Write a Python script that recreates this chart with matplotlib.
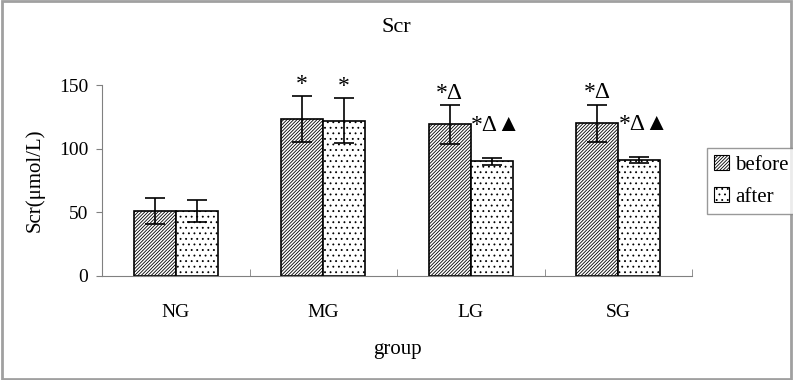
import matplotlib
matplotlib.use("Agg")
import matplotlib.pyplot as plt
from matplotlib.patches import Rectangle, Patch
import numpy as np

groups = ["NG", "MG", "LG", "SG"]
before = [51, 123, 119, 120]
before_err = [10, 18, 15, 14.5]
after = [51, 122, 90, 91]
after_err = [8.5, 17.5, 3, 2.6]
before_marks = ["", "*", "*Δ", "*Δ"]
after_marks = ["", "*", "*Δ▲", "*Δ▲"]

plt.rcParams["font.family"] = ["Liberation Serif", "DejaVu Sans"]
plt.rcParams["hatch.linewidth"] = 0.6

fig = plt.figure(figsize=(7.93, 3.80), dpi=100)
ax = fig.add_axes([102 / 793, 1 - 276 / 380, 590 / 793, 191 / 380])

x = np.arange(len(groups))
w = 0.285
ax.bar(x - w / 2, before, w, color="white", edgecolor="black", linewidth=1.2,
       hatch="//////////", label="before")
ax.bar(x + w / 2, after, w, color="white", edgecolor="black", linewidth=1.2,
       hatch="...", label="after")
ax.errorbar(x - w / 2, before, yerr=before_err, fmt="none", ecolor="black",
            elinewidth=1.2, capsize=7, capthick=1.2)
ax.errorbar(x + w / 2, after, yerr=after_err, fmt="none", ecolor="black",
            elinewidth=1.2, capsize=7, capthick=1.2)

# significance marks
for i in range(len(groups)):
    if before_marks[i]:
        ax.text(x[i] - w / 2, before[i] + before_err[i] + 1, before_marks[i],
                ha="center", va="bottom", fontsize=17)
    if after_marks[i] == "*":
        ax.text(x[i] + w / 2, after[i] + after_err[i] + 1, after_marks[i],
                ha="center", va="bottom", fontsize=17)
    elif after_marks[i]:
        ax.text(x[i] + w / 2 + 0.03, after[i] + after_err[i] + 17, after_marks[i],
                ha="center", va="bottom", fontsize=17)

ax.set_xlim(-0.5, 3.5)
ax.set_ylim(0, 150)
ax.set_yticks([0, 50, 100, 150])
ax.set_xticks(x)
ax.set_xticklabels(groups)
ax.set_xticks([0.5, 1.5, 2.5, 3.5], minor=True)
ax.tick_params(axis="x", which="major", length=0, pad=20, labelsize=14)
ax.tick_params(axis="x", which="minor", direction="in", length=5, color="#808080")
ax.tick_params(axis="y", direction="out", length=4, color="#808080", pad=6, labelsize=14)

for s in ["top", "right"]:
    ax.spines[s].set_visible(False)
for s in ["left", "bottom"]:
    ax.spines[s].set_color("#808080")

ax.set_xlabel("group", fontsize=15, labelpad=14)
ax.set_ylabel("Scr(μmol/L)", fontsize=15, labelpad=10)
fig.text(0.5, 1 - 28 / 380, "Scr", ha="center", va="center", fontsize=16)

handles = [Patch(facecolor="white", edgecolor="black", hatch="//////////", linewidth=0.8),
           Patch(facecolor="white", edgecolor="black", hatch="...", linewidth=0.8)]
leg = fig.legend(handles, ["before", "after"], loc="upper left",
                 bbox_to_anchor=(707 / 793, 1 - 148 / 380), fontsize=15,
                 fancybox=False, edgecolor="#808080", handlelength=0.7,
                 handleheight=0.7, handletextpad=0.3, borderpad=0.35,
                 labelspacing=0.6, borderaxespad=0)
leg.get_frame().set_linewidth(1.0)

fig.patches.append(Rectangle((0.002, 0.003), 0.996, 0.994, transform=fig.transFigure,
                             fill=False, edgecolor="#a0a0a0", linewidth=2))

fig.savefig("out.png", dpi=100)
